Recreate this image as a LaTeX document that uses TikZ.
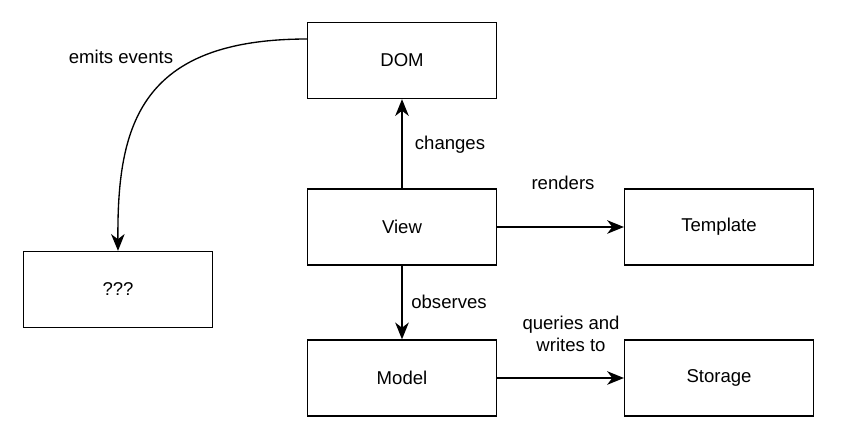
\documentclass[tikz,border=0pt]{standalone}
\usepackage{fontspec}
\setmainfont{Liberation Sans}
\usetikzlibrary{arrows.meta}
\begin{document}
\begin{tikzpicture}[x=0.025cm,y=-0.025cm,
        box/.style={draw,line width=0.95pt,minimum width=4.72cm,minimum height=1.9cm,inner sep=0pt},
        link/.style={line width=0.95pt,-{Stealth[length=0.42cm,width=0.34cm,inset=0.13cm]}},
        every node/.style={font=\fontsize{13.2}{16}\selectfont}]
    \useasboundingbox (0,0) rectangle (860,447);

    \node [box] (dom)      at (402,60.5) {DOM};
    \node [box] (view)     at (402,227)  {View};
    \node [box] (template) at (719,227)  {Template};
    \node [box] (unknown)  at (118,289.5) {???};
    \node [box] (model)    at (402,378)  {Model};
    \node [box] (storage)  at (719,378)  {Storage};

    \coordinate (domleft) at (307.5,39);
    \draw [link] (domleft) .. controls (140,39) and (117,125) .. (unknown.north);
    \draw [link] (view) -- (dom);
    \draw [link] (view) -- (template);
    \draw [link] (view) -- (model);
    \draw [link] (model) -- (storage);

    \node (emits)    at (121,57)  {emits events};
    \node (changes)  at (450,145) {changes};
    \node (renders)  at (563,183) {renders};
    \node (observes) at (449,302) {observes};
    \node [align=center] (queries) at (571,334) {queries and\\writes to};
\end{tikzpicture}
\end{document}
